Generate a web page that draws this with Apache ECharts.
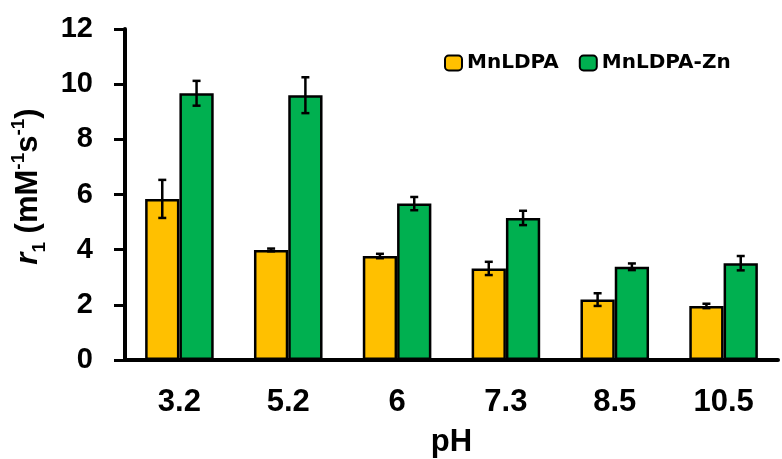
<!DOCTYPE html>
<html>
<head>
<meta charset="utf-8">
<script src="https://cdn.jsdelivr.net/npm/echarts@6/dist/echarts.min.js"></script>
<style>
  html, body { margin: 0; padding: 0; background: #fff; }
  #chart { width: 782px; height: 459px; }
</style>
</head>
<body>
<div id="chart"></div>
<script>
// pH values and r1 relaxivity
var phLabels = ['3.2', '5.2', '6', '7.3', '8.5', '10.5'];
var mnValues = [5.84, 3.99, 3.77, 3.32, 2.19, 1.96];
var mnErrors = [0.69, 0.05, 0.08, 0.24, 0.23, 0.08];
var znValues = [9.67, 9.60, 5.67, 5.15, 3.38, 3.51];
var znErrors = [0.45, 0.65, 0.24, 0.26, 0.12, 0.26];

var chart = echarts.init(document.getElementById('chart'));
var gapRatio = 0.37;

function errorSeries(values, errors, side) {
    var data = values.map(function (v, i) { return [i, v - errors[i], v + errors[i]]; });
    return {
        type: 'custom',
        silent: true,
        z: 10,
        data: data,
        renderItem: function (params, api) {
            var bw = api.size([1, 0])[0] * (1 - gapRatio) / 2;
            var low = api.coord([api.value(0), api.value(1)]);
            var high = api.coord([api.value(0), api.value(2)]);
            var x = low[0] + side * bw / 2;
            var cap = 4;
            var style = { stroke: '#000', lineWidth: 2.5 };
            return {
                type: 'group',
                children: [
                    { type: 'line', shape: { x1: x, y1: high[1], x2: x, y2: low[1] }, style: style },
                    { type: 'line', shape: { x1: x - cap, y1: high[1], x2: x + cap, y2: high[1] }, style: style },
                    { type: 'line', shape: { x1: x - cap, y1: low[1], x2: x + cap, y2: low[1] }, style: style }
                ]
            };
        }
    };
}

var labelFont = { fontFamily: 'Liberation Sans', fontWeight: 'bold', color: '#000' };

var option = {
    backgroundColor: '#fff',
    animation: false,
    grid: { left: 125, right: 4, top: 29, bottom: 99, outerBoundsMode: 'none', containLabel: false },
    legend: {
        left: 439,
        top: 48,
        itemWidth: 17,
        itemHeight: 15,
        itemGap: 20,
        data: ['MnLDPA', 'MnLDPA-Zn'],
        textStyle: { fontFamily: 'DejaVu Sans', fontWeight: 'bold', fontSize: 20, color: '#000' }
    },
    xAxis: {
        type: 'category',
        data: phLabels,
        name: 'pH',
        nameLocation: 'middle',
        nameGap: 67,
        nameTextStyle: Object.assign({ fontSize: 31 }, labelFont),
        axisLine: { lineStyle: { color: '#000', width: 4 } },
        axisTick: { alignWithLabel: true, length: 7, lineStyle: { color: '#000', width: 3 } },
        axisLabel: Object.assign({ margin: 27, fontSize: 31 }, labelFont)
    },
    yAxis: {
        type: 'value',
        min: 0,
        max: 12,
        interval: 2,
        name: '{r|r}{sub|1}{n| (mM}{sup|-1}{n|s}{sup|-1}{n|)}',
        nameLocation: 'middle',
        nameRotate: 90,
        nameGap: 80,
        nameTextStyle: {
            padding: [0, 0, 0, 16],
            rich: {
                r: Object.assign({ fontStyle: 'italic', fontSize: 31, lineHeight: 34 }, labelFont),
                n: Object.assign({ fontSize: 31, lineHeight: 34 }, labelFont),
                sub: Object.assign({ fontSize: 19, lineHeight: 34, verticalAlign: 'bottom', padding: [0, 0, -4, 0] }, labelFont),
                sup: Object.assign({ fontSize: 19, lineHeight: 34, verticalAlign: 'top', padding: [-2, 0, 0, 0] }, labelFont)
            }
        },
        splitLine: { show: false },
        axisLine: { show: true, lineStyle: { color: '#000', width: 4 } },
        axisTick: { show: true, length: 11, lineStyle: { color: '#000', width: 3 } },
        axisLabel: Object.assign({ margin: 32, fontSize: 29 }, labelFont)
    },
    series: [
        {
            name: 'MnLDPA',
            type: 'bar',
            data: mnValues,
            barGap: '0%',
            barCategoryGap: '37%',
            itemStyle: { color: '#FFC000', borderColor: '#000', borderWidth: 2.5 }
        },
        {
            name: 'MnLDPA-Zn',
            type: 'bar',
            data: znValues,
            barGap: '0%',
            barCategoryGap: '37%',
            itemStyle: { color: '#00B050', borderColor: '#000', borderWidth: 2.5 }
        },
        errorSeries(mnValues, mnErrors, -1),
        errorSeries(znValues, znErrors, 1)
    ]
};

chart.setOption(option);
</script>
</body>
</html>
